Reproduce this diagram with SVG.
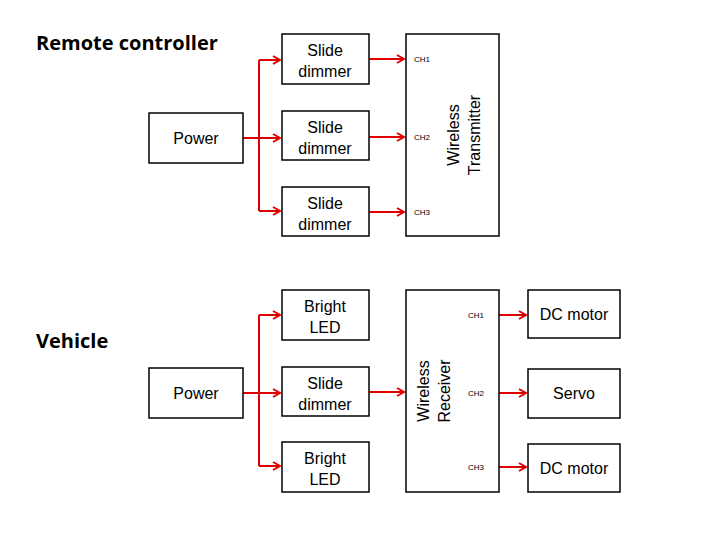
<svg xmlns="http://www.w3.org/2000/svg" width="720" height="540" viewBox="0 0 720 540">
<style>
.b{fill:#fff;stroke:#000;stroke-width:1.5}
.t{font-family:"Liberation Sans",Arial,sans-serif;font-size:16px;text-anchor:middle;fill:#000}
.s{font-family:"Liberation Sans",Arial,sans-serif;font-size:8px;fill:#000}
.h{font-family:"Open Sans","Liberation Sans",sans-serif;font-size:20px;font-weight:bold;fill:#000}
.c{fill:none;stroke:#e00000;stroke-width:2}
</style>
<defs><marker id="a" markerWidth="10" markerHeight="10" refX="8" refY="5" orient="auto" markerUnits="userSpaceOnUse"><path d="M1,1 L8,5 L1,9" fill="none" stroke="#e00000" stroke-width="2"/></marker></defs>
<rect width="720" height="540" fill="#fff"/>
<text class="h" x="36" y="50">Remote controller</text>
<text class="h" x="36" y="348">Vehicle</text>
<g id="connectors">
<path class="c" d="M243,138 H259 M259,60 V211" />
<path class="c" d="M259,60 H280" marker-end="url(#a)"/>
<path class="c" d="M259,138 H280" marker-end="url(#a)"/>
<path class="c" d="M259,211 H280" marker-end="url(#a)"/>
<path class="c" d="M369,59 H404" marker-end="url(#a)"/>
<path class="c" d="M369,137 H404" marker-end="url(#a)"/>
<path class="c" d="M369,212 H404" marker-end="url(#a)"/>
<path class="c" d="M243,393 H259 M259,315 V466"/>
<path class="c" d="M259,315 H280" marker-end="url(#a)"/>
<path class="c" d="M259,393 H280" marker-end="url(#a)"/>
<path class="c" d="M259,466 H280" marker-end="url(#a)"/>
<path class="c" d="M369,392 H404" marker-end="url(#a)"/>
<path class="c" d="M499,315 H526" marker-end="url(#a)"/>
<path class="c" d="M499,393 H526" marker-end="url(#a)"/>
<path class="c" d="M499,467 H526" marker-end="url(#a)"/>
</g>
<g id="power1"><rect class="b" x="149" y="113" width="94" height="50"/><text class="t" x="196" y="144">Power</text></g>
<g id="sd1"><rect class="b" x="282" y="34" width="87" height="50"/><text class="t" x="325" y="56">Slide</text><text class="t" x="325" y="77">dimmer</text></g>
<g id="sd2"><rect class="b" x="282" y="111" width="87" height="49"/><text class="t" x="325" y="133">Slide</text><text class="t" x="325" y="154">dimmer</text></g>
<g id="sd3"><rect class="b" x="282" y="187" width="87" height="49"/><text class="t" x="325" y="209">Slide</text><text class="t" x="325" y="230">dimmer</text></g>
<g id="tx"><rect class="b" x="406" y="34" width="93" height="202"/>
<text class="s" x="414" y="62">CH1</text><text class="s" x="414" y="140">CH2</text><text class="s" x="414" y="215">CH3</text>
<text class="t" transform="translate(459,135) rotate(-90)">Wireless</text><text class="t" transform="translate(480,135) rotate(-90)">Transmitter</text></g>
<g id="power2"><rect class="b" x="149" y="368" width="94" height="50"/><text class="t" x="196" y="399">Power</text></g>
<g id="led1"><rect class="b" x="282" y="290" width="87" height="50"/><text class="t" x="325" y="312">Bright</text><text class="t" x="325" y="333">LED</text></g>
<g id="sd4"><rect class="b" x="282" y="367" width="87" height="49"/><text class="t" x="325" y="389">Slide</text><text class="t" x="325" y="410">dimmer</text></g>
<g id="led2"><rect class="b" x="282" y="442" width="87" height="50"/><text class="t" x="325" y="464">Bright</text><text class="t" x="325" y="485">LED</text></g>
<g id="rx"><rect class="b" x="406" y="290" width="93" height="202"/>
<text class="s" x="468" y="318">CH1</text><text class="s" x="468" y="396">CH2</text><text class="s" x="468" y="470">CH3</text>
<text class="t" transform="translate(429,391) rotate(-90)">Wireless</text><text class="t" transform="translate(450,391) rotate(-90)">Receiver</text></g>
<g id="m1"><rect class="b" x="528" y="290" width="92" height="48"/><text class="t" x="574" y="320">DC motor</text></g>
<g id="servo"><rect class="b" x="528" y="369" width="92" height="49"/><text class="t" x="574" y="399">Servo</text></g>
<g id="m2"><rect class="b" x="528" y="444" width="92" height="48"/><text class="t" x="574" y="474">DC motor</text></g>
</svg>
